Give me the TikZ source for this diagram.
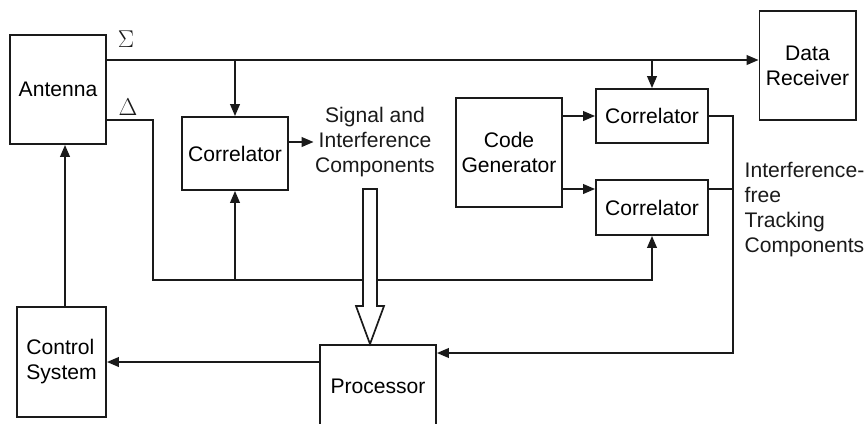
\documentclass[tikz,border=0pt]{standalone}
\usepackage{fontspec}
\setmainfont{Liberation Sans}
\usetikzlibrary{positioning,arrows.meta,calc}
\definecolor{ink}{HTML}{1A1A1A}
\tikzset{
  >=Triangle,
  %% nodes
  box/.style   = {draw=ink, line width=1.4pt, fill=white, inner sep=2pt,
                  align=center, font=\fontsize{15}{17.8}\selectfont},
  lbl/.style   = {inner sep=1pt, font=\fontsize{15}{17.8}\selectfont, text=ink},
  greek/.style = {inner sep=0pt, font=\fontsize{16}{18}\selectfont, text=ink},
  %% arrows
  flow/.style  = {-{Triangle[length=8.5pt,width=7pt]}, draw=ink, line width=1pt},
  wire/.style  = {-, draw=ink, line width=1pt},
  hollow/.style= {draw=ink, line width=1.2pt, fill=white, line join=miter},
}
\begin{document}
\begin{tikzpicture}[x=0.025cm, y=-0.025cm]
\useasboundingbox (0,0) rectangle (867,423);

%% blocks
\node[box, minimum width=2.4cm, minimum height=2.725cm] (ant) at (58,89.5) {Antenna};
\node[box, minimum width=2.4cm, minimum height=2.725cm] (recv) at (807.5,65.5) {Data\\Receiver};
\node[box, minimum width=2.65cm, minimum height=1.825cm] (cor1) at (235,153.5) {Correlator};
\node[box, minimum width=2.65cm, minimum height=2.725cm] (gen) at (509,152.5) {Code\\Generator};
\node[box, minimum width=2.8cm, minimum height=1.35cm] (cor2) at (652,116) {Correlator};
\node[box, minimum width=2.8cm, minimum height=1.375cm] (cor3) at (652,207.5) {Correlator};
\node[box, minimum width=2.225cm, minimum height=2.75cm, align=left] (ctl) at (61.5,362) {Control\\System};
\node[box, minimum width=2.9cm, minimum height=2.05cm, anchor=north] (proc) at (378,344) {Processor};

%% labels
\node[greek] (sig) at (126,39) {$\Sigma$};
\node[greek] (del) at (128,107) {$\Delta$};
\node[lbl, align=center] (sic) at (375,142) {Signal and\\Interference\\Components};
\node[lbl, align=left, anchor=west] (itc) at (743,210) {Interference-\\free\\Tracking\\Components};

%% junctions
\coordinate (sum) at (106,60);
\coordinate (dif) at (106,120);
\coordinate (bus) at (153,280);
\coordinate (col) at (733,353);
\coordinate (low) at (0,189);
\coordinate (tip) at (370,344);

%% sum channel
\draw[flow] (sum) -- (sum -| recv.west);
\draw[flow] (cor1.north |- sum) -- (cor1.north);
\draw[flow] (cor2.north |- sum) -- (cor2.north);

%% difference channel
\draw[flow] (dif) -| (bus) -| (cor3.south);
\draw[flow] (cor1.south |- bus) -- (cor1.south);

%% correlator outputs
\draw[flow] (cor1.east |- sic.west) -- (sic.west);
\draw[flow] (gen.east |- cor2) -- (cor2.west);
\draw[flow] (gen.east |- low) -- (cor3.west |- low);
\draw[wire] (cor3.east |- low) -- (col |- low);
\draw[flow] (cor2.east) -| (col) -- (col -| proc.east);

%% wide arrow into processor
\draw[hollow] (tip) -- ++(-14,-38) -- ++(7,0) -- ++(0,-117) -- ++(14,0)
  -- ++(0,117) -- ++(7,0) -- cycle;

%% control loop
\draw[flow] (proc.west |- ctl) -- (ctl.east);
\draw[flow] ([xshift=2.5pt]ctl.north) -- ([xshift=2.5pt]ctl.north |- ant.south);

\end{tikzpicture}
\end{document}
